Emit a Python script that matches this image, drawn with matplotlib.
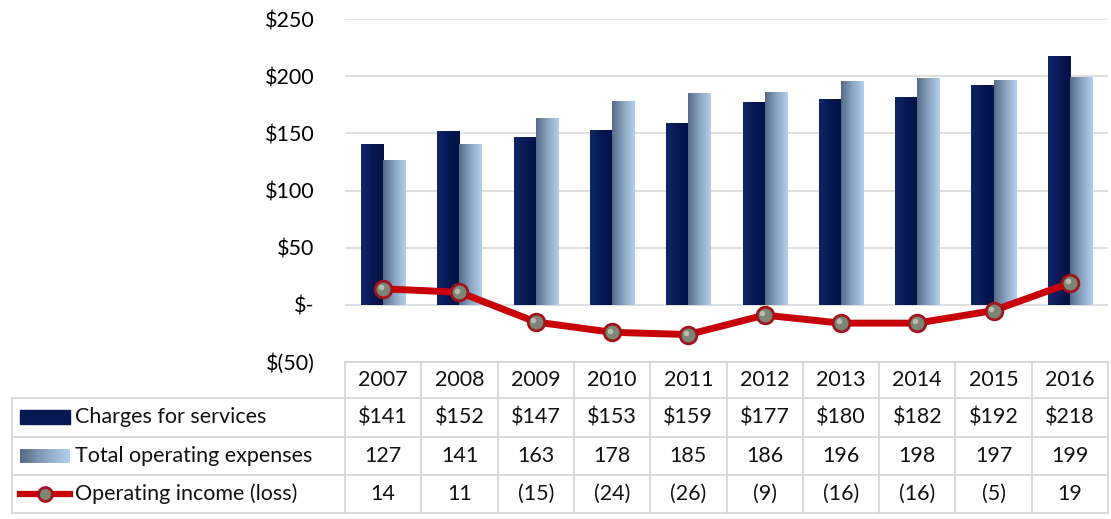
import numpy as np
import matplotlib
matplotlib.use("Agg")
import matplotlib.pyplot as plt
from matplotlib.colors import LinearSegmentedColormap
from matplotlib.patches import Rectangle
from matplotlib.lines import Line2D

plt.rcParams['font.family'] = ['Lato', 'DejaVu Sans']

years = ["2007", "2008", "2009", "2010", "2011", "2012", "2013", "2014", "2015", "2016"]
charges = [141, 152, 147, 153, 159, 177, 180, 182, 192, 218]
expenses = [127, 141, 163, 178, 185, 186, 196, 198, 197, 199]
income = [14, 11, -15, -24, -26, -9, -16, -16, -5, 19]

series_names = ["Charges for services", "Total operating expenses", "Operating income (loss)"]
yticks = [-50, 0, 50, 100, 150, 200, 250]


def money(v):
    if v == 0:
        return "$-"
    if v < 0:
        return "$(%d)" % -v
    return "$%d" % v


def paren(v):
    return "(%d)" % -v if v < 0 else "%d" % v


navy = "#071852"
red = "#c8000a"
grid = "#d9d9d9"
light_cmap = LinearSegmentedColormap.from_list("light", ["#566b86", "#8aa4c2", "#b3cfec"])
dark_cmap = LinearSegmentedColormap.from_list("dark", ["#11266a", "#071852", "#041246"])

W, H = 1111, 519
fig = plt.figure(figsize=(W / 100, H / 100), dpi=100)
ax = fig.add_axes([345 / W, 1 - 362 / H, 763 / W, 343 / H])

x = np.arange(len(years))
bw = 0.29


def gradient_bars(xs, vals, cmap, offset):
    bars = ax.bar(xs + offset, vals, bw, color=cmap(0.5), linewidth=0, zorder=2)
    grad = np.linspace(0, 1, 64).reshape(1, -1)
    for b in bars:
        im = ax.imshow(grad, cmap=cmap, aspect="auto", zorder=2.1,
                       extent=[b.get_x(), b.get_x() + b.get_width(), 0, b.get_height()])
        im.set_clip_path(b)
    return bars


gradient_bars(x, charges, dark_cmap, -bw / 2)
gradient_bars(x, expenses, light_cmap, bw / 2)

ax.plot(x, income, color=red, lw=5, zorder=4, solid_capstyle="round",
        marker="o", ms=12, mfc="#7d8576", mec="#a0141c", mew=2)
ax.plot(x - 0.03, np.array(income) + 1.5, ls="none", marker="o", ms=4,
        mfc="#d0d6c8", mec="none", alpha=0.7, zorder=5)

ax.set_xlim(-0.5, len(years) - 0.5)
ax.set_ylim(-50, 250)
ax.set_yticks(yticks)
ax.set_yticklabels([money(v) for v in yticks], fontsize=15.5)
ax.yaxis.grid(True, color=grid, lw=1.2)
ax.set_axisbelow(True)
ax.tick_params(axis="y", length=0, pad=22)
ax.set_xticks([])
for s in ax.spines.values():
    s.set_visible(False)

# data table under the plot, sharing the category axis
tab = fig.add_axes([345 / W, 0, 763 / W, 1 - 362 / H], sharex=ax)
tab.set_ylim(H, 362)
tab.axis("off")
rows = [362, 398, 437, 475, 513]
left = -0.5 - (345 - 12) / 76.3
right = len(years) - 0.5
lc = "#d4d4d4"
tab.plot([-0.5, right], [rows[0]] * 2, color=lc, lw=1.2, clip_on=False)
for r in rows[1:]:
    tab.plot([left, right], [r, r], color=lc, lw=1.2, clip_on=False)
for i in range(len(years) + 1):
    tab.plot([i - 0.5] * 2, [rows[0], rows[-1]], color=lc, lw=1.2, clip_on=False)
tab.plot([left] * 2, [rows[1], rows[-1]], color=lc, lw=1.2, clip_on=False)

cells = [years, [money(v) for v in charges], [str(v) for v in expenses], [paren(v) for v in income]]
for r, row in enumerate(cells):
    yc = (rows[r] + rows[r + 1]) / 2
    for i, txt in enumerate(row):
        tab.text(i, yc, txt, ha="center", va="center", fontsize=15.5, color="#111111")

# row labels with legend keys
key_x0 = left + 8 / 76.3
key_x1 = left + 58 / 76.3
lab_x = left + 63 / 76.3
for r, name in enumerate(series_names):
    yc = (rows[r + 1] + rows[r + 2]) / 2
    tab.text(lab_x, yc, name, ha="left", va="center", fontsize=15.5, color="#111111")
    if r == 0:
        tab.add_patch(Rectangle((key_x0, yc - 7), key_x1 - key_x0, 14, color=navy, clip_on=False))
    elif r == 1:
        tab.imshow(np.linspace(0, 1, 64).reshape(1, -1), cmap=light_cmap, aspect="auto",
                   extent=[key_x0, key_x1, yc + 7, yc - 7], clip_on=False)
    else:
        tab.add_line(Line2D([key_x0, key_x1], [yc, yc], color=red, lw=4.5, clip_on=False))
        tab.plot([(key_x0 + key_x1) / 2], [yc], marker="o", ms=10, mfc="#7d8576",
                 mec="#a0141c", mew=2, clip_on=False)
tab.set_ylim(H, 362)

fig.savefig("out.png", dpi=100)
